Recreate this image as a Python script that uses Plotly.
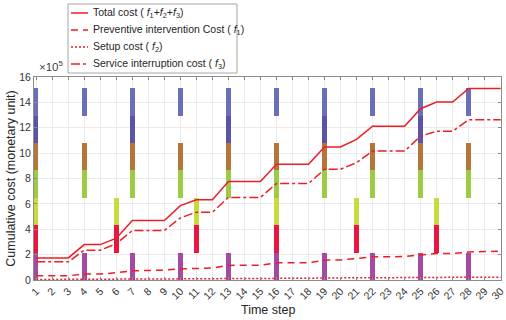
import plotly.graph_objects as go

t = list(range(1, 31))
total = [1.74,1.74,1.74,2.79,2.79,3.3,4.69,4.69,4.69,5.86,6.33,6.33,7.76,7.76,7.76,9.12,9.12,9.12,10.48,10.48,11.08,12.12,12.12,12.12,13.5,14.02,14.02,15.1,15.1,15.1]
f3 = [1.43,1.43,1.43,2.35,2.35,2.87,3.9,3.9,3.9,4.9,5.34,5.34,6.51,6.51,6.51,7.6,7.6,7.6,8.73,8.73,9.25,10.16,10.16,10.16,11.34,11.73,11.73,12.64,12.64,12.64]
f1 = [0.33,0.33,0.33,0.47,0.47,0.57,0.73,0.75,0.78,0.88,0.92,0.94,1.15,1.16,1.17,1.35,1.35,1.36,1.56,1.58,1.69,1.82,1.83,1.85,1.98,2.08,2.08,2.21,2.24,2.27]
f2 = [0.04,0.04,0.04,0.06,0.06,0.07,0.08,0.08,0.08,0.09,0.1,0.1,0.12,0.12,0.12,0.14,0.14,0.14,0.16,0.16,0.17,0.18,0.18,0.18,0.2,0.21,0.21,0.22,0.22,0.22]

# intervention indicator rows (bottom to top) and the time steps where each occurs
every3 = [1, 4, 7, 10, 13, 16, 19, 22, 25, 28]
every5 = [1, 6, 11, 16, 21, 26]
every6 = [1, 7, 13, 19, 25]
row_steps = [every3, every5, every5, every3, every3, every6, every3]
row_colors = ["#a44ba0", "#e8173f", "#c9db3c", "#9dcc44", "#b5743a", "#5b53a6", "#6a6fb8"]
row_height = 2.16

series_names = [
    "Total cost ( <i>f</i><sub>1</sub>+<i>f</i><sub>2</sub>+<i>f</i><sub>3</sub>)",
    "Preventive intervention Cost ( <i>f</i><sub>1</sub>)",
    "Setup cost ( <i>f</i><sub>2</sub>)",
    "Service interruption cost ( <i>f</i><sub>3</sub>)",
]
series_values = [total, f1, f2, f3]
series_dash = ["solid", "7px,5px", "2px,2px", "dashdot"]
red = "#ee1c25"

fig = go.Figure()

for i, (steps, col) in enumerate(zip(row_steps, row_colors)):
    fig.add_trace(go.Bar(
        x=steps, y=[row_height] * len(steps), base=[i * row_height] * len(steps),
        width=0.28, marker=dict(color=col, line=dict(width=0)),
        showlegend=False, hoverinfo="skip"))

for name, vals, dash in zip(series_names, series_values, series_dash):
    fig.add_trace(go.Scatter(x=t, y=vals, mode="lines", name=name, showlegend=False,
                             line=dict(color=red, width=1.5, dash=dash)))

# plot-area geometry in pixels (for placing the hand-built legend box)
L, R, T, B = 34, 501, 77, 280
def px(x):
    return (x - L) / (R - L)
def py(y):
    return (B - y) / (B - T)

shapes = [dict(type="rect", xref="paper", yref="paper",
               x0=px(68), x1=px(237), y0=py(73), y1=py(4),
               line=dict(color="#a6a6a6", width=1), fillcolor="white", layer="above")]
annotations = []
row_y = [13, 30, 47, 64]
for name, dash, yy in zip(series_names, series_dash, row_y):
    shapes.append(dict(type="line", xref="paper", yref="paper",
                       x0=px(71), x1=px(88), y0=py(yy), y1=py(yy),
                       line=dict(color=red, width=1.5, dash=dash), layer="above"))
    annotations.append(dict(text=name, xref="paper", yref="paper", x=px(91), y=py(yy),
                            xanchor="left", yanchor="middle", showarrow=False,
                            font=dict(size=10.5, color="#262626")))

annotations.append(dict(text="×10<sup>5</sup>", xref="paper", yref="paper", x=px(37), y=py(75),
                        xanchor="left", yanchor="bottom", showarrow=False,
                        font=dict(size=11.5, color="#404040")))
annotations.append(dict(text="Time step", xref="paper", yref="paper", x=0.5, y=py(310),
                        xanchor="center", yanchor="middle", showarrow=False,
                        font=dict(size=12.5, color="#262626")))

axis_common = dict(showline=True, linecolor="#8c8c8c", linewidth=1, mirror="ticks",
                   ticks="inside", ticklen=3, tickcolor="#8c8c8c",
                   showgrid=True, gridcolor="#ebebeb", gridwidth=1, zeroline=False,
                   tickfont=dict(size=10.5, color="#333333"))

fig.update_layout(
    width=506, height=320,
    margin=dict(l=L, r=506 - R, t=T, b=320 - B),
    paper_bgcolor="white", plot_bgcolor="white",
    font=dict(family="Liberation Sans, Arial, sans-serif", color="#333333"),
    barmode="overlay", bargap=0, showlegend=False,
    xaxis=dict(range=[0.86, 30.02], tickmode="array", tickvals=t, ticktext=[str(v) for v in t],
               tickangle=-45, automargin=False, **axis_common),
    yaxis=dict(range=[0, 16], tickmode="array", tickvals=list(range(0, 17, 2)),
               title=dict(text="Cumulative cost (monetary unit)", font=dict(size=12.5, color="#262626"), standoff=0),
               automargin=False, **axis_common),
    shapes=shapes,
    annotations=annotations,
)

fig.write_html("out.html", config={"displayModeBar": False},
               post_script="document.body.style.margin='0';document.body.style.overflow='hidden';")
